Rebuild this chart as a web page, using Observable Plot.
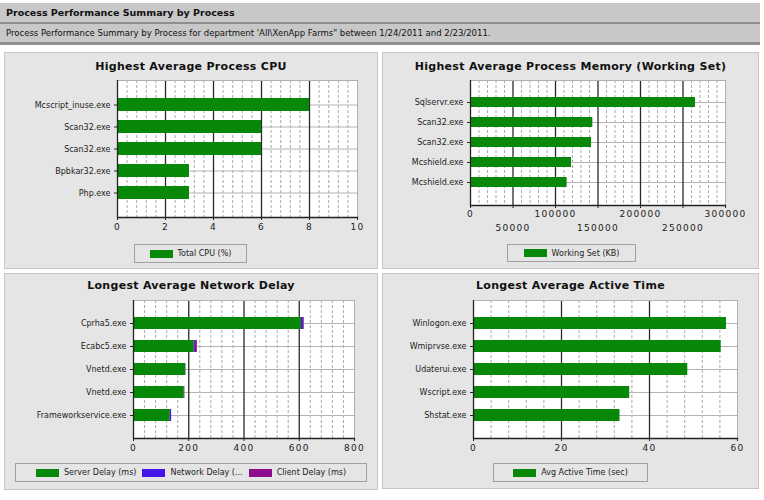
<!DOCTYPE html>
<html>
<head>
<meta charset="utf-8">
<script src="https://cdn.jsdelivr.net/npm/d3@7"></script>
<script src="https://cdn.jsdelivr.net/npm/@observablehq/plot@0.6"></script>
<style>
  body { margin: 0; background: #fff; font-family: "DejaVu Sans", sans-serif; }
  #page { position: relative; width: 764px; height: 500px; overflow: hidden; background: #fff; }
  .band { position: absolute; left: 0; width: 760px; background: #c8c8c8; color: #111; white-space: nowrap; }
  .rule { position: absolute; left: 0; width: 760px; background: #8f8f8f; }
  #title { top: 3px; height: 19px; line-height: 19px; font-weight: bold; font-size: 9.5px; padding-left: 6px; box-sizing: border-box; }
  #subtitle { top: 24px; height: 18px; line-height: 18px; font-size: 8.5px; padding-left: 6px; box-sizing: border-box; }
  .panel { position: absolute; background: #e5e5e5; box-shadow: inset 0 0 0 1px #c6c6c6; }
  .ptitle { position: absolute; left: 0; right: 0; text-align: center; font-weight: bold; font-size: 11px; letter-spacing: 0.3px; line-height: 14px; height: 14px; color: #111; white-space: nowrap; }
  .panel svg { position: absolute; left: 0; }
  .legend { position: absolute; box-sizing: border-box; border: 1px solid #a0a0a0; background: #e5e5e5; display: flex; align-items: center; justify-content: center; gap: 6px; font-size: 8px; color: #222; white-space: nowrap; }
  .item { display: flex; align-items: center; gap: 5px; }
  .sw { display: inline-block; width: 23px; height: 8px; }
</style>
</head>
<body>
<div id="page">
  <div class="band" id="title">Process Performance Summary by Process</div>
  <div class="rule" style="top:22px;height:2px"></div>
  <div class="band" id="subtitle">Process Performance Summary by Process for department 'All\XenApp Farms" between 1/24/2011 and 2/23/2011.</div>
  <div class="rule" style="top:42px;height:3px"></div>

  <div class="panel" id="cpu" style="left:4px;top:52px;width:374px;height:217px">
    <div class="ptitle" style="top:8px">Highest Average Process CPU</div>
  </div>
  <div class="panel" id="mem" style="left:382px;top:52px;width:377px;height:217px">
    <div class="ptitle" style="top:8px">Highest Average Process Memory (Working Set)</div>
  </div>
  <div class="panel" id="net" style="left:4px;top:273px;width:374px;height:217px">
    <div class="ptitle" style="top:6px">Longest Average Network Delay</div>
  </div>
  <div class="panel" id="act" style="left:382px;top:273px;width:377px;height:216px">
    <div class="ptitle" style="top:6px">Longest Average Active Time</div>
  </div>
</div>

<script>
// ---- Data ----
const green = "#088808";

const cpuNames = ["Mcscript_inuse.exe", "Scan32.exe", "Scan32.exe", "Bpbkar32.exe", "Php.exe"];
const cpuValues = [8, 6, 6, 3, 3];
const cpuTicks = [0, 2, 4, 6, 8, 10];
const cpuSeries = "Total CPU (%)";

const memNames = ["Sqlservr.exe", "Scan32.exe", "Scan32.exe", "Mcshield.exe", "Mcshield.exe"];
const memValues = [264700, 143900, 142400, 118800, 113700];
const memTicksTop = [0, 100000, 200000, 300000];
const memTicksBottom = [50000, 150000, 250000];
const memSeries = "Working Set (KB)";

const netNames = ["Cprha5.exe", "Ecabc5.exe", "Vnetd.exe", "Vnetd.exe", "Frameworkservice.exe"];
const netServer = [608, 220, 189, 184, 133];
const netNetwork = [7, 4, 1, 0, 5];
const netClient = [3, 7, 0, 2, 0];
const netTicks = [0, 200, 400, 600, 800];
const netSeries = ["Server Delay (ms)", "Network Delay (ms)", "Client Delay (ms)"];
const netLegendLabels = ["Server Delay (ms)", "Network Delay (...", "Client Delay (ms)"];
const netColors = [green, "#4614e8", "#8c0a8c"];

const actNames = ["Winlogon.exe", "Wmiprvse.exe", "Udaterui.exe", "Wscript.exe", "Shstat.exe"];
const actValues = [57.5, 56.3, 48.7, 35.5, 33.3];
const actTicks = [0, 20, 40, 60];
const actSeries = "Avg Active Time (sec)";

// ---- Shared chart builder: horizontal bars on a white plotting area with grid ----
function barPanel({names, xMax, majorStep, width, height, ml, mr, mt, mb, pI, bars, xAxes, color}) {
  const minorStep = majorStep / 5;
  const nMinor = Math.round(xMax / minorStep);
  const minor = d3.range(1, nMinor).filter(k => k % 5 !== 0).map(k => k * minorStep);
  const major = d3.range(1, Math.round(xMax / majorStep)).map(k => k * majorStep);
  const svg = Plot.plot({
    width, height,
    marginLeft: ml, marginRight: mr, marginTop: mt, marginBottom: mb,
    style: {background: "transparent", color: "#222", fontFamily: "DejaVu Sans", fontSize: "8px"},
    x: {domain: [0, xMax], nice: false},
    y: {type: "band", domain: d3.range(names.length), paddingInner: pI, paddingOuter: (1 + pI) / 2},
    color,
    marks: [
      Plot.frame({fill: "white", stroke: null}),
      Plot.ruleX(minor, {stroke: "#aaaaaa", strokeDasharray: "3,2", strokeWidth: 1}),
      Plot.gridY({stroke: "#b4b4b4", strokeOpacity: 1, strokeWidth: 1}),
      Plot.ruleX(major, {stroke: "#2a2a2a", strokeWidth: 1.3}),
      ...bars,
      Plot.frame({stroke: "#b0b0b0"}),
      Plot.ruleX([0], {stroke: "#222", strokeWidth: 1.3}),
      Plot.frame({anchor: "bottom", stroke: "#222", strokeWidth: 1.3}),
      Plot.axisY({tickSize: 3, tickPadding: 4, tickFormat: i => names[i], fontSize: 8, label: null}),
      ...xAxes
    ]
  });
  svg.querySelectorAll('[aria-label="x-axis tick label"] text').forEach(t => {
    t.style.letterSpacing = "1.3px";
  });
  return svg;
}

function xAxis(ticks, pad) {
  return Plot.axisX(ticks, {tickSize: 3, tickPadding: pad, tickFormat: d => String(d), fontSize: 9, label: null});
}

function legend(panel, items, box) {
  const div = document.createElement("div");
  div.className = "legend";
  Object.assign(div.style, box);
  items.forEach(([label, c]) => {
    const it = document.createElement("span");
    it.className = "item";
    const sw = document.createElement("span");
    sw.className = "sw";
    sw.style.background = c;
    const tx = document.createElement("span");
    tx.textContent = label;
    it.append(sw, tx);
    div.append(it);
  });
  panel.append(div);
}

function place(panel, svg, top) {
  svg.style.top = top + "px";
  panel.append(svg);
}

// ---- CPU ----
{
  const panel = document.getElementById("cpu");
  const rows = cpuNames.map((n, i) => ({i, value: cpuValues[i]}));
  const svg = barPanel({
    names: cpuNames, xMax: 10, majorStep: 2, width: 374, height: 163,
    ml: 113, mr: 21, mt: 6, mb: 20, pI: 0.41,
    bars: [Plot.barX(rows, {x: "value", y: "i", fill: green})],
    xAxes: [xAxis(cpuTicks, 3)]
  });
  place(panel, svg, 22);
  legend(panel, [[cpuSeries, green]], {left: "130px", top: "192px", width: "113px", height: "19px"});
}

// ---- Memory ----
{
  const panel = document.getElementById("mem");
  const rows = memNames.map((n, i) => ({i, value: memValues[i]}));
  const svg = barPanel({
    names: memNames, xMax: 300000, majorStep: 50000, width: 377, height: 161,
    ml: 88, mr: 34, mt: 6, mb: 30, pI: 0.48,
    bars: [Plot.barX(rows, {x: "value", y: "i", fill: green})],
    xAxes: [xAxis(memTicksTop, 2), xAxis(memTicksBottom, 16)]
  });
  place(panel, svg, 22);
  legend(panel, [[memSeries, green]], {left: "125px", top: "192px", width: "129px", height: "18px"});
}

// ---- Network delay (stacked) ----
{
  const panel = document.getElementById("net");
  const parts = [netServer, netNetwork, netClient];
  const rows = netSeries.flatMap((s, k) => netNames.map((n, i) => ({i, series: s, value: parts[k][i]})));
  const svg = barPanel({
    names: netNames, xMax: 800, majorStep: 200, width: 374, height: 164,
    ml: 129, mr: 24, mt: 6, mb: 20, pI: 0.47,
    color: {domain: netSeries, range: netColors},
    bars: [Plot.barX(rows, Plot.stackX({x: "value", y: "i", fill: "series"}))],
    xAxes: [xAxis(netTicks, 3)]
  });
  place(panel, svg, 21);
  legend(panel, netLegendLabels.map((l, k) => [l, netColors[k]]), {left: "11px", top: "190px", width: "352px", height: "19px"});
}

// ---- Active time ----
{
  const panel = document.getElementById("act");
  const rows = actNames.map((n, i) => ({i, value: actValues[i]}));
  const svg = barPanel({
    names: actNames, xMax: 60, majorStep: 20, width: 377, height: 164,
    ml: 91, mr: 22, mt: 6, mb: 20, pI: 0.47,
    bars: [Plot.barX(rows, {x: "value", y: "i", fill: green})],
    xAxes: [xAxis(actTicks, 3)]
  });
  place(panel, svg, 21);
  legend(panel, [[actSeries, green]], {left: "111px", top: "190px", width: "155px", height: "19px"});
}
</script>
</body>
</html>
